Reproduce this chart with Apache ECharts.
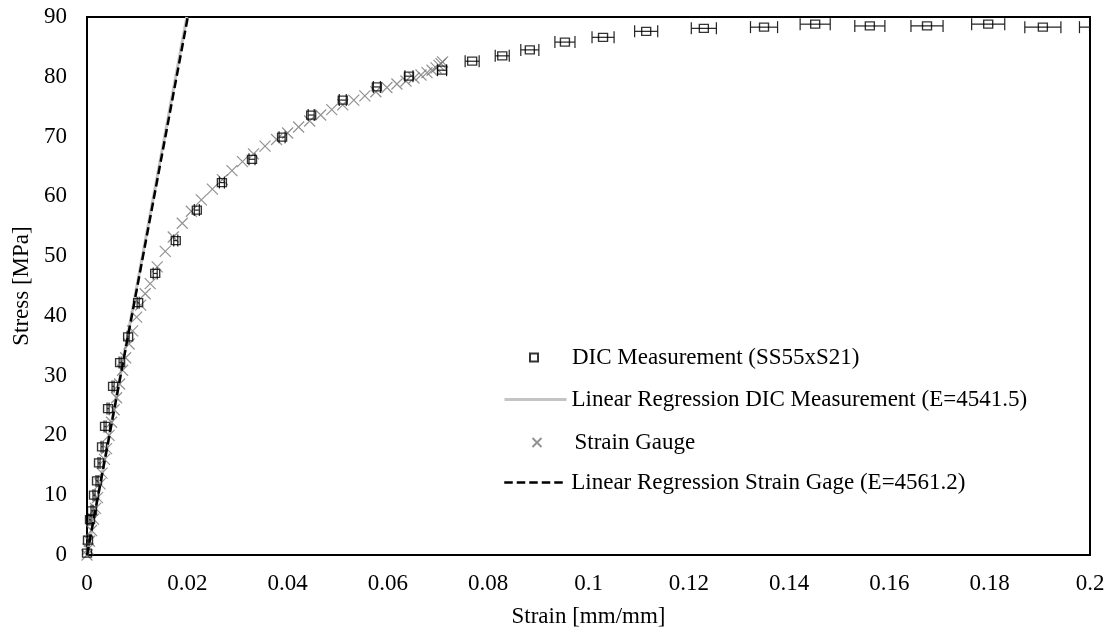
<!DOCTYPE html>
<html>
<head>
<meta charset="utf-8">
<script src="https://cdn.jsdelivr.net/npm/echarts@6/dist/echarts.min.js"></script>
<style>
  html, body { margin: 0; padding: 0; background: #fff; }
  #main { width: 1113px; height: 635px; }
</style>
</head>
<body>
<div id="main"></div>
<script>
// DIC measurement (squares with horizontal error bars)
const dicStrain = [0, 0.0002, 0.0006, 0.0010, 0.0014, 0.0020, 0.0024, 0.0030, 0.0036, 0.0042,
  0.0052, 0.0066, 0.0082, 0.0102, 0.0136, 0.0177, 0.0219, 0.0269, 0.0329, 0.0389,
  0.0447, 0.0510, 0.0578, 0.0642, 0.0708, 0.0768, 0.0828, 0.0883, 0.0953, 0.1029,
  0.1115, 0.1230, 0.1350, 0.1452, 0.1561, 0.1675, 0.1797, 0.1906, 0.2015];
const dicStress = [0.3, 2.5, 5.9, 7.4, 10.0, 12.4, 15.4, 18.1, 21.5, 24.5,
  28.2, 32.2, 36.5, 42.2, 47.1, 52.6, 57.7, 62.3, 66.2, 69.9,
  73.6, 76.1, 78.3, 80.1, 81.1, 82.6, 83.5, 84.5, 85.8, 86.6,
  87.6, 88.1, 88.3, 88.8, 88.5, 88.5, 88.8, 88.3, 88.3];
const dicError = [0.0002, 0.0002, 0.0002, 0.0002, 0.0002, 0.0002, 0.0002, 0.0002, 0.0002, 0.0002,
  0.0002, 0.0002, 0.0002, 0.0002, 0.0004, 0.0004, 0.0005, 0.0005, 0.0006, 0.0006,
  0.0006, 0.0007, 0.0007, 0.0008, 0.0009, 0.0014, 0.0014, 0.0018, 0.0020, 0.0022,
  0.0023, 0.0025, 0.0027, 0.0030, 0.0030, 0.0032, 0.0033, 0.0036, 0.0036];

// strain gauge (crosses)
const gaugeStrain = [0, 0.0002, 0.0005, 0.0009, 0.0013, 0.0017, 0.0021, 0.0026, 0.0030, 0.0035,
  0.0039, 0.0044, 0.0049, 0.0054, 0.0059, 0.0065, 0.0071, 0.0077, 0.0084, 0.0091,
  0.0099, 0.0107, 0.0116, 0.0126, 0.0140, 0.0156, 0.0172, 0.0190, 0.0208, 0.0228,
  0.0250, 0.0270, 0.0289, 0.0310, 0.0332, 0.0355, 0.0378, 0.0400, 0.0422, 0.0444,
  0.0466, 0.0488, 0.0510, 0.0532, 0.0554, 0.0576, 0.0598, 0.0618, 0.0636, 0.0652,
  0.0666, 0.0678, 0.0688, 0.0696, 0.0702, 0.0706, 0.0709];
const gaugeStress = [0, 1.0, 2.3, 4.1, 6.0, 7.8, 9.6, 11.9, 13.7, 16.0,
  17.8, 20.0, 22.2, 24.3, 26.3, 28.6, 30.9, 33.0, 35.3, 37.5,
  39.8, 41.8, 43.7, 45.4, 48.2, 50.8, 53.2, 55.5, 57.5, 59.4,
  61.2, 62.8, 64.3, 65.8, 67.1, 68.4, 69.5, 70.6, 71.6, 72.6,
  73.6, 74.5, 75.3, 76.1, 76.8, 77.5, 78.2, 78.8, 79.3, 79.8,
  80.3, 80.7, 81.1, 81.5, 81.9, 82.2, 82.5];

// linear regression lines (end points)
const dicFitStrain = [0, 0.0199];
const dicFitStress = [0, 90];
const gaugeFitStrain = [0, 0.0201];
const gaugeFitStress = [0, 90];

const NAME_DIC = 'DIC Measurement (SS55xS21)';
const NAME_DIC_FIT = 'Linear Regression DIC Measurement (E=4541.5)';
const NAME_GAUGE = 'Strain Gauge';
const NAME_GAUGE_FIT = 'Linear Regression Strain Gage (E=4561.2)';

const FONT = '"Liberation Serif", "Times New Roman", serif';
const FS = 23;

const zip = (a, b, c) => a.map((v, i) => c ? [v, b[i], c[i]] : [v, b[i]]);

// one legend block per entry so each icon can have its own size
function legendItem(name, left, top, w, h, padLeft, lineW) {
  const lg = {
    data: [name], left: left, top: top, padding: 0, orient: 'vertical',
    itemWidth: w, itemHeight: h, selectedMode: false,
    textStyle: { fontFamily: FONT, fontSize: FS, color: '#000', padding: [0, 0, 0, padLeft] }
  };
  if (lineW) lg.lineStyle = { width: lineW };
  return lg;
}

const chart = echarts.init(document.getElementById('main'));

const option = {
  animation: false,
  backgroundColor: '#fff',
  textStyle: { fontFamily: FONT, color: '#000' },
  grid: {
    left: 87, right: 23, top: 17, bottom: 80,
    show: true, borderColor: '#000', borderWidth: 2, backgroundColor: 'transparent'
  },
  legend: [
    legendItem(NAME_DIC, 529, 346, 8, 8, 29),
    legendItem(NAME_DIC_FIT, 503, 388, 62, 4, 0, 3),
    legendItem(NAME_GAUGE, 530, 431, 9, 9, 28),
    legendItem(NAME_GAUGE_FIT, 503, 471, 62, 4, 0, 2.5)
  ],
  xAxis: {
    type: 'value', min: 0, max: 0.2, interval: 0.02,
    name: 'Strain [mm/mm]', nameLocation: 'middle', nameGap: 50,
    nameTextStyle: { fontFamily: FONT, fontSize: FS, color: '#000' },
    axisLine: { show: false },
    axisTick: { show: false },
    splitLine: { show: false },
    axisLabel: { fontFamily: FONT, fontSize: FS, color: '#000', margin: 17 }
  },
  yAxis: {
    type: 'value', min: 0, max: 90, interval: 10,
    name: 'Stress [MPa]', nameLocation: 'middle', nameGap: 53,
    nameTextStyle: { fontFamily: FONT, fontSize: FS, color: '#000' },
    axisLine: { show: false },
    axisTick: { show: false },
    splitLine: { show: false },
    axisLabel: { fontFamily: FONT, fontSize: FS, color: '#000', margin: 20 }
  },
  series: [
    {
      name: NAME_DIC_FIT,
      type: 'line', symbol: 'none', z: 2,
      lineStyle: { color: '#c4c4c4', width: 3 },
      itemStyle: { color: 'transparent', borderColor: 'transparent', borderWidth: 0 },
      data: zip(dicFitStrain, dicFitStress)
    },
    {
      name: NAME_GAUGE,
      type: 'scatter', z: 3,
      symbol: 'path://M0,0L10,10M10,0L0,10',
      symbolSize: 11,
      itemStyle: { color: 'none', borderColor: '#777', borderWidth: 1.2 },
      data: zip(gaugeStrain, gaugeStress)
    },
    {
      name: 'DIC error',
      type: 'custom', z: 4, clip: true,
      renderItem: function (params, api) {
        const x = api.value(0), y = api.value(1), e = api.value(2);
        const l = api.coord([x - e, y]);
        const r = api.coord([x + e, y]);
        const cap = 6;
        const st = { stroke: '#222', lineWidth: 1.2 };
        return {
          type: 'group',
          children: [
            { type: 'line', shape: { x1: l[0], y1: l[1], x2: r[0], y2: r[1] }, style: st },
            { type: 'line', shape: { x1: l[0], y1: l[1] - cap, x2: l[0], y2: l[1] + cap }, style: st },
            { type: 'line', shape: { x1: r[0], y1: r[1] - cap, x2: r[0], y2: r[1] + cap }, style: st }
          ]
        };
      },
      data: zip(dicStrain, dicStress, dicError)
    },
    {
      name: NAME_DIC,
      type: 'scatter', z: 5,
      symbol: 'rect', symbolSize: [9, 8],
      itemStyle: { color: 'rgba(255,255,255,0)', borderColor: '#000', borderWidth: 1.3 },
      data: zip(dicStrain, dicStress)
    },
    {
      name: NAME_GAUGE_FIT,
      type: 'line', symbol: 'none', z: 6,
      lineStyle: { color: '#000', width: 2.5, type: [8.5, 4] },
      itemStyle: { color: 'transparent', borderColor: 'transparent', borderWidth: 0 },
      data: zip(gaugeFitStrain, gaugeFitStress)
    }
  ]
};

chart.setOption(option);
</script>
</body>
</html>
